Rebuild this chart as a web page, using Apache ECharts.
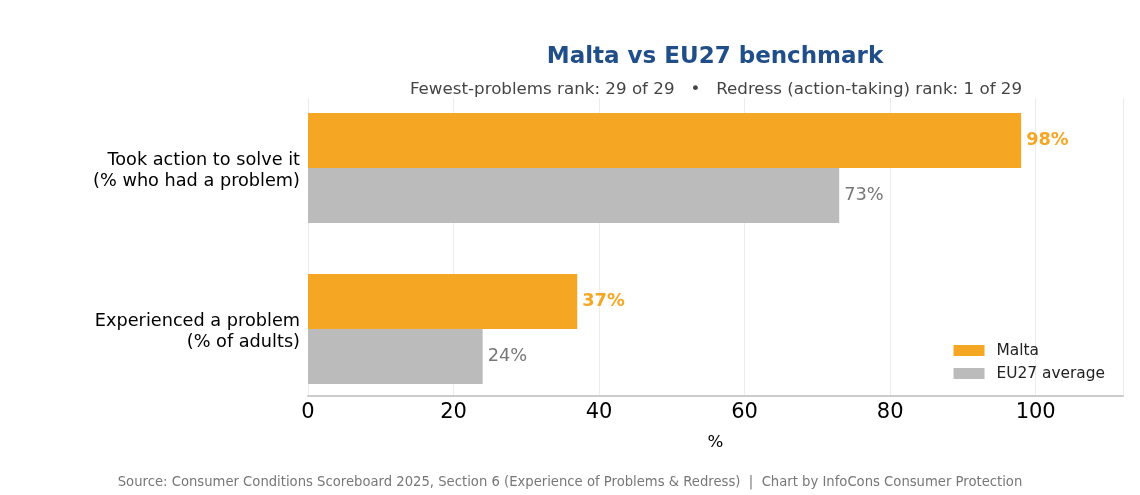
<!DOCTYPE html>
<html>
<head>
<meta charset="utf-8">
<script src="https://cdn.jsdelivr.net/npm/echarts@6/dist/echarts.min.js"></script>
<style>
  html, body {margin: 0; padding: 0; background: #fff;}
  #chart {width: 1140px; height: 495px;}
</style>
</head>
<body>
<div id="chart"></div>
<script>
// bottom to top, as the category axis draws them
const categories = ['Experienced a problem\n(% of adults)', 'Took action to solve it\n(% who had a problem)']
const maltaValues = [37, 98]
const euValues = [24, 73]
const xTicks = [0, 20, 40, 60, 80, 100]

const FONT = 'DejaVu Sans'
const ORANGE = '#F5A623'
const GREY = '#BBBBBB'

// small empty first line pushes the two text lines a little below the bar centre
const catLabel = v => '{s| }\n' + v.split('\n').map(s => '{t|' + s + '}').join('\n')

const chart = echarts.init(document.getElementById('chart'))
chart.setOption({
  animation: false,
  textStyle: {fontFamily: FONT},
  title: [
    {
      text: 'Malta vs EU27 benchmark',
      left: 710, top: 41, textAlign: 'center',
      textStyle: {fontFamily: FONT, fontSize: 23, fontWeight: 'bold', color: '#1F4E89'}
    },
    {
      text: 'Fewest-problems rank: 29 of 29   \u2022   Redress (action-taking) rank: 1 of 29',
      left: 711, top: 76, textAlign: 'center',
      textStyle: {fontFamily: FONT, fontSize: 16.7, fontWeight: 'normal', color: '#444'}
    },
    {
      text: 'Source: Consumer Conditions Scoreboard 2025, Section 6 (Experience of Problems & Redress)  |  Chart by InfoCons Consumer Protection',
      left: 565, top: 471, textAlign: 'center',
      textStyle: {fontFamily: FONT, fontSize: 13.2, fontWeight: 'normal', color: '#777'}
    }
  ],
  legend: {
    data: ['Malta', 'EU27 average'],
    orient: 'vertical',
    right: 30, top: 338,
    itemWidth: 31, itemHeight: 11, itemGap: 8,
    icon: 'rect',
    textStyle: {fontFamily: FONT, fontSize: 15.4, color: '#222', padding: [0, 0, 0, 7]}
  },
  grid: [
    // frame: grid lines, ticks and axis line
    {left: 308, right: 17, top: 98, bottom: 99},
    // bars: taller so the two groups land where the reference puts them
    {left: 308, right: 17, top: 87.5, height: 322}
  ],
  xAxis: [
    {
      gridIndex: 0, type: 'value', min: 0, max: 112, interval: 20,
      axisLine: {show: true, lineStyle: {color: '#cccccc', width: 2}},
      axisTick: {show: false},
      axisLabel: {
        fontSize: 21, color: '#000', margin: 6,
        formatter: v => xTicks.includes(v) ? String(v) : ''
      },
      splitLine: {show: true, lineStyle: {color: '#ececec', width: 1}},
      name: '%', nameLocation: 'middle', nameGap: 38,
      nameTextStyle: {fontSize: 16.7, color: '#000'}
    },
    {
      gridIndex: 1, type: 'value', min: 0, max: 112,
      show: false
    }
  ],
  yAxis: [
    {gridIndex: 0, type: 'value', show: false},
    {
      gridIndex: 1, type: 'category', data: categories,
      axisLine: {show: false}, axisTick: {show: false},
      axisLabel: {
        margin: 8, align: 'right', formatter: catLabel,
        rich: {
          s: {fontSize: 4, lineHeight: 6},
          t: {fontFamily: FONT, fontSize: 17.7, color: '#000', lineHeight: 20.5, align: 'right'}
        }
      }
    }
  ],
  series: [
    {
      name: 'Malta', type: 'bar', xAxisIndex: 1, yAxisIndex: 1,
      data: maltaValues, barWidth: 55, barGap: '0%',
      itemStyle: {color: ORANGE},
      label: {
        show: true, position: 'right', distance: 5, formatter: '{c}%',
        fontSize: 17.8, fontWeight: 'bold', color: ORANGE
      }
    },
    {
      name: 'EU27 average', type: 'bar', xAxisIndex: 1, yAxisIndex: 1,
      data: euValues, barWidth: 55, barGap: '0%',
      itemStyle: {color: GREY},
      label: {
        show: true, position: 'right', distance: 5, formatter: '{c}%',
        fontSize: 17.8, color: '#777'
      }
    }
  ]
})
</script>
</body>
</html>
